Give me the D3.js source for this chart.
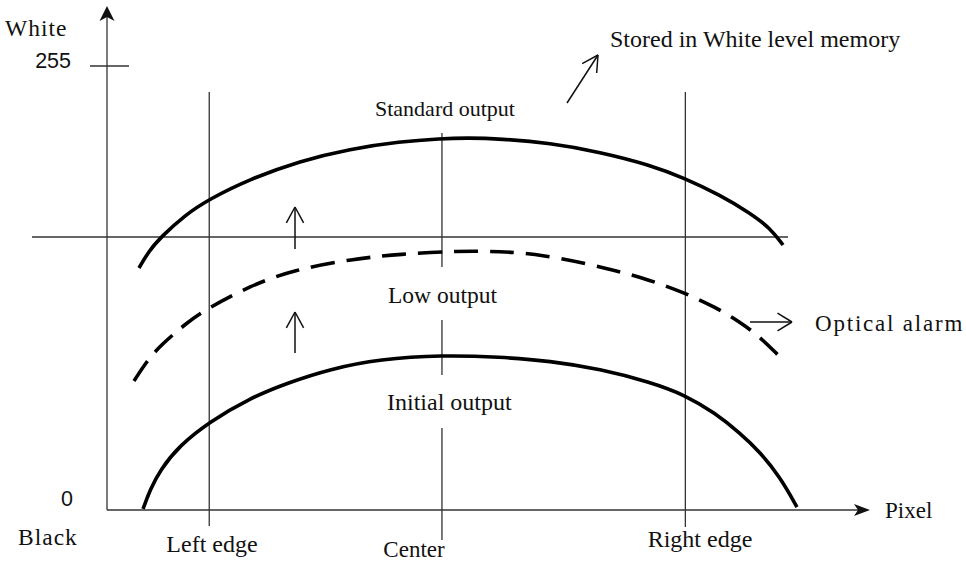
<!DOCTYPE html>
<html>
<head>
<meta charset="utf-8">
<script src="https://cdn.jsdelivr.net/npm/d3@7"></script>
<style>
body { margin: 0; background: #fff; }
text { font-family: "Liberation Serif", "Times New Roman", serif; font-size: 23.5px; fill: #111; }
.num { font-family: "Liberation Sans", Arial, sans-serif; font-size: 21.5px; }
.thin { stroke: #333; stroke-width: 1.3; fill: none; }
</style>
</head>
<body>
<script>
var width = 966, height = 563;

// x = position along the sensor (0-100), y = output level (0-255)
var standardX = [4.19, 5.50, 7.08, 10.22, 13.37, 18.74, 25.29, 31.85, 38.40, 43.77, 47.31, 51.51, 58.06, 64.61, 71.17, 75.62, 80.34, 84.27, 86.89, 88.60];
var standardY = [139.0, 148.8, 156.8, 169.4, 178.5, 190.1, 200.5, 207.4, 211.6, 213.3, 213.7, 213.2, 210.8, 205.6, 198.2, 190.7, 180.9, 170.6, 162.0, 152.2];
var lowX = [3.54, 5.24, 6.95, 10.22, 13.24, 18.74, 24.38, 32.24, 38.40, 46.00, 51.51, 56.75, 65.53, 71.17, 75.75, 79.69, 82.96, 85.58, 88.20];
var lowY = [74.1, 85.6, 94.2, 106.8, 116.0, 128.7, 137.9, 144.2, 147.0, 148.8, 148.5, 147.0, 139.0, 132.1, 124.6, 116.6, 108.0, 99.4, 87.9];
var initialX = [4.72, 5.64, 6.95, 9.57, 13.37, 18.74, 23.59, 29.23, 35.78, 43.91, 51.51, 58.06, 64.61, 71.17, 75.75, 79.69, 82.96, 85.58, 88.20, 90.43];
var initialY = [0.6, 11.5, 23.0, 37.3, 50.5, 64.3, 72.9, 81.0, 86.7, 89.0, 87.9, 85.6, 81.0, 73.5, 66.1, 55.7, 44.2, 33.3, 19.0, 1.7];
var edgeNames = ["Left edge", "Center", "Right edge"];
var edgeX = [13.4, 43.9, 75.8];
var whiteLevel = 156.8;
var tickValues = [0, 255];

var x = d3.scaleLinear().domain([0, 100]).range([107, 870]);
var y = d3.scaleLinear().domain([0, 255]).range([510, 66]);

var svg = d3.select("body").append("svg")
	.attr("width", width)
	.attr("height", height);

function zip(xs, ys) {
	return xs.map(function(v, i) { return [v, ys[i]]; });
}

// open arrow (two wings) from (x1,y1) to (x2,y2)
function openArrow(x1, y1, x2, y2, len, spread) {
	var a = Math.atan2(y2 - y1, x2 - x1);
	var g = svg.append("g").attr("class", "arrow");
	g.append("line").attr("x1", x1).attr("y1", y1).attr("x2", x2).attr("y2", y2)
		.attr("stroke", "#111").attr("stroke-width", 1.5);
	[-1, 1].forEach(function(s) {
		g.append("line")
			.attr("x1", x2).attr("y1", y2)
			.attr("x2", x2 - len * Math.cos(a + s * spread))
			.attr("y2", y2 - len * Math.sin(a + s * spread))
			.attr("stroke", "#111").attr("stroke-width", 1.5);
	});
}

// axes
var x0 = x(0), y0 = y(0);
svg.append("line").attr("class", "thin").attr("x1", x0).attr("y1", y0).attr("x2", x0).attr("y2", 16);
svg.append("path").attr("d", "M" + x0 + ",6 L" + (x0 - 7.5) + ",21 L" + x0 + ",17 L" + (x0 + 7.5) + ",21 Z").attr("fill", "#111");
svg.append("line").attr("class", "thin").attr("x1", x0).attr("y1", y0).attr("x2", 860).attr("y2", y0);
svg.append("path").attr("d", "M870," + y0 + " L854," + (y0 - 6) + " L858," + y0 + " L854," + (y0 + 6) + " Z").attr("fill", "#111");

// 255 tick crosses the axis
svg.append("line").attr("class", "thin")
	.attr("x1", x0 - 17).attr("x2", x0 + 22)
	.attr("y1", y(255)).attr("y2", y(255));

svg.selectAll(".num").data(tickValues).enter().append("text")
	.attr("class", "num")
	.attr("text-anchor", "end")
	.attr("x", function(d) { return d == 0 ? 73 : 71; })
	.attr("y", function(d) { return y(d) + (d == 0 ? -4 : 2); })
	.text(function(d) { return d; });

svg.append("text").attr("x", 5).attr("y", 36).style("letter-spacing", "1px").text("White");
svg.append("text").attr("x", 18).attr("y", 545).style("letter-spacing", "1px").text("Black");
svg.append("text").attr("x", 885).attr("y", 518).style("font-size", "23px").text("Pixel");

// white level reference line
svg.append("line").attr("class", "thin")
	.attr("x1", 32).attr("x2", 788)
	.attr("y1", y(whiteLevel)).attr("y2", y(whiteLevel));

// edge guide lines
svg.append("line").attr("class", "thin").attr("x1", x(edgeX[0])).attr("x2", x(edgeX[0])).attr("y1", 92).attr("y2", 526);
svg.append("line").attr("class", "thin").attr("x1", x(edgeX[2])).attr("x2", x(edgeX[2])).attr("y1", 92).attr("y2", 527);
[[133, 267], [320, 375], [428, 540]].forEach(function(s) {
	svg.append("line").attr("class", "thin")
		.attr("x1", x(edgeX[1])).attr("x2", x(edgeX[1]))
		.attr("y1", s[0]).attr("y2", s[1]);
});

var labelPos = [[212, 552], [414, 557], [700, 547]];
svg.selectAll(".edge").data(edgeNames).enter().append("text")
	.attr("class", "edge")
	.attr("text-anchor", "middle")
	.attr("x", function(d, i) { return labelPos[i][0]; })
	.attr("y", function(d, i) { return labelPos[i][1]; })
	.style("font-size", function(d, i) { return i == 1 ? "23px" : "24px"; })
	.text(function(d) { return d; });

// output curves
var line = d3.line()
	.x(function(d) { return x(d[0]); })
	.y(function(d) { return y(d[1]); })
	.curve(d3.curveBasis);

svg.append("path").attr("d", line(zip(standardX, standardY)))
	.attr("fill", "none").attr("stroke", "#000").attr("stroke-width", 3.6);
svg.append("path").attr("d", line(zip(lowX, lowY)))
	.attr("fill", "none").attr("stroke", "#000").attr("stroke-width", 3.6)
	.attr("stroke-dasharray", "24,12");
svg.append("path").attr("d", line(zip(initialX, initialY)))
	.attr("fill", "none").attr("stroke", "#000").attr("stroke-width", 3.6);

svg.append("text").attr("x", 375).attr("y", 116).style("font-size", "22px").text("Standard output");
svg.append("text").attr("x", 388).attr("y", 303).text("Low output");
svg.append("text").attr("x", 387).attr("y", 410).style("font-size", "24px").text("Initial output");

// arrows
openArrow(295, 249, 295, 207, 18, 0.5);
openArrow(295, 353, 295, 312, 18, 0.5);
openArrow(750, 322, 792, 322, 17, 0.55);
openArrow(567, 103, 598, 55, 18, 0.5);

svg.append("text").attr("x", 610).attr("y", 47).style("font-size", "24px").text("Stored in White level memory");
svg.append("text").attr("x", 815).attr("y", 331).style("font-size", "23px").style("letter-spacing", "1.8px").text("Optical alarm");
</script>
</body>
</html>
